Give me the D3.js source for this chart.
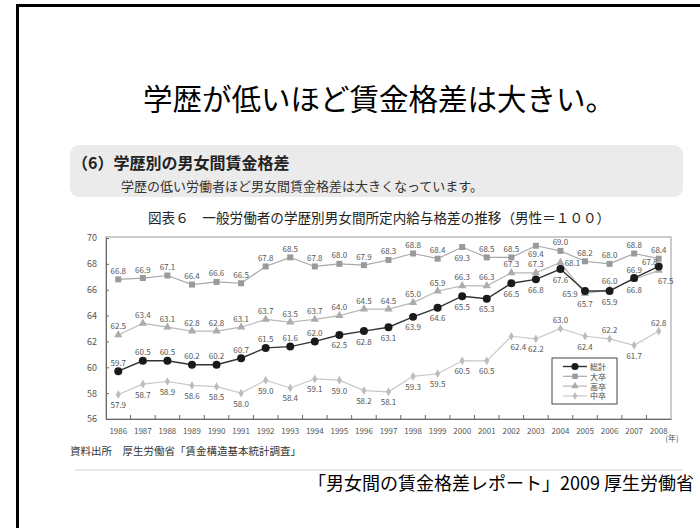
<!DOCTYPE html>
<html><head><meta charset="utf-8">
<script src="https://cdn.jsdelivr.net/npm/d3@7"></script>
<style>
html,body{margin:0;padding:0;background:#fff;}
svg{display:block;font-family:"Noto Sans CJK JP","Noto Sans",sans-serif;}
</style>
</head><body>
<svg id="c" width="700" height="528"></svg>
<script>
// ---- data ----
const years = ["1986","1987","1988","1989","1990","1991","1992","1993","1994","1995","1996","1997","1998","1999","2000","2001","2002","2003","2004","2005","2006","2007","2008"];
const seriesNames = ["総計","大卒","高卒","中卒"];
const total  = [59.7,60.5,60.5,60.2,60.2,60.7,61.5,61.6,62.0,62.5,62.8,63.1,63.9,64.6,65.5,65.3,66.5,66.8,67.6,65.9,65.9,66.9,67.8];
const univ   = [66.8,66.9,67.1,66.4,66.6,66.5,67.8,68.5,67.8,68.0,67.9,68.3,68.8,68.4,69.3,68.5,68.5,69.4,69.0,68.2,68.0,68.8,68.4];
const high   = [62.5,63.4,63.1,62.8,62.8,63.1,63.7,63.5,63.7,64.0,64.5,64.5,65.0,65.9,66.3,66.3,67.3,67.3,68.1,65.7,66.0,66.8,67.5];
const junior = [57.9,58.7,58.9,58.6,58.5,58.0,59.0,58.4,59.1,59.0,58.2,58.1,59.3,59.5,60.5,60.5,62.4,62.2,63.0,62.4,62.2,61.7,62.8];
const yTicks = [56,58,60,62,64,66,68,70];

// label placement codes (a=above, b=below, bs=just below, l=left, r=right, al=above-left, br=below-right)
const totalLab  = ["a","a","a","a","a","a","a","a","a","b","b","b","b","b","b","b","b","b","b","l","b","a","al"];
const univLab   = ["a","a","a","a","a","a","a","a","a","a","a","a","a","a","b","a","a","bs","a","a","a","a","a"];
const highLab   = ["a","a","a","a","a","a","a","a","a","a","a","a","a","a","a","a","a","a","r","b","a","b","br"];
const juniorLab = ["b","b","b","b","b","b","b","b","b","b","b","b","b","b","b","b","br","b","a","b","a","b","a"];

// ---- drawing ----
const svg = d3.select("#c");

// slide frame
svg.append("rect").attr("x",17.5).attr("y",5.5).attr("width",900).attr("height",900)
  .attr("fill","none").attr("stroke","#000").attr("stroke-width",3);

// main title
svg.append("text").attr("x",143).attr("y",97).attr("dominant-baseline","central")
  .attr("font-size",29.5).attr("fill","#000").text("学歴が低いほど賃金格差は大きい。");

// header box
svg.append("rect").attr("x",70).attr("y",145).attr("width",613).attr("height",52).attr("rx",9)
  .attr("fill","#ebebeb");
svg.append("text").attr("x",72).attr("y",162).attr("dominant-baseline","central")
  .attr("font-size",16).attr("font-weight","bold").attr("fill","#222").text("（6）学歴別の男女間賃金格差");
svg.append("text").attr("x",121).attr("y",185).attr("dominant-baseline","central")
  .attr("font-size",13).attr("fill","#333").text("学歴の低い労働者ほど男女間賃金格差は大きくなっています。");

// chart title
svg.append("text").attr("x",148).attr("y",217).attr("dominant-baseline","central")
  .attr("font-size",13.6).attr("fill","#222").text("図表６　一般労働者の学歴別男女間所定内給与格差の推移（男性＝１００）");

// scales
const x = d3.scaleBand().domain(years).range([106,671]).paddingInner(0).paddingOuter(0);
const cx = d => x(d) + x.bandwidth()/2;
const y = d3.scaleLinear().domain([56,70]).range([419,238]);

// plot frame
svg.append("rect").attr("x",106).attr("y",237).attr("width",565).attr("height",182)
  .attr("fill","none").attr("stroke","#999").attr("stroke-width",1);

// y axis
const gy = svg.append("g").attr("transform","translate(106,0)")
  .call(d3.axisLeft(y).tickValues(yTicks).tickSize(-3).tickPadding(9).tickFormat(d3.format("d")));
gy.select(".domain").attr("stroke","#666");
gy.selectAll(".tick line").attr("stroke","#666");
gy.selectAll("text").attr("font-size",9).attr("fill","#555").attr("font-family","'Noto Sans CJK JP',sans-serif");

// x axis
const gx = svg.append("g").attr("transform","translate(0,419)")
  .call(d3.axisBottom(x).tickSize(0).tickPadding(9));
gx.select(".domain").attr("stroke","#666");
gx.selectAll("text").attr("font-size",8).attr("fill","#555").attr("font-family","'Noto Sans CJK JP',sans-serif");
// boundary ticks (inward)
svg.append("g").selectAll("line").data(years.slice(1)).join("line")
  .attr("x1",d=>x(d)).attr("x2",d=>x(d)).attr("y1",419).attr("y2",415)
  .attr("stroke","#666").attr("stroke-width",1);
svg.append("text").attr("x",672).attr("y",437).attr("text-anchor","middle").attr("dominant-baseline","central")
  .attr("font-size",8).attr("fill","#555").text("(年)");

// series
const offs = {a:[0,-9], b:[0,10], bs:[0,7.5], l:[-15,2], r:[12,0], al:[-9,-5], br:[7,10]};
const series = [
  {name:seriesNames[1], vals:univ,   lab:univLab,   line:"#a8a8a8", mark:"#9a9a9a", sym:d3.symbolSquare,   size:36, lw:1.2},
  {name:seriesNames[2], vals:high,   lab:highLab,   line:"#b8b8b8", mark:"#acacac", sym:d3.symbolTriangle, size:30, lw:1.2},
  {name:seriesNames[3], vals:junior, lab:juniorLab, line:"#c8c8c8", mark:"#bcbcbc", sym:d3.symbolDiamond,  size:22, lw:1.2},
  {name:seriesNames[0], vals:total,  lab:totalLab,  line:"#333",    mark:"#1a1a1a", sym:d3.symbolCircle,   size:50, lw:1.4}
];
const line = d3.line().x((d,i)=>cx(years[i])).y(d=>y(d));
series.forEach(s=>{
  const g = svg.append("g");
  g.append("path").attr("d",line(s.vals)).attr("fill","none").attr("stroke",s.line).attr("stroke-width",s.lw);
  g.selectAll("path.m").data(s.vals).join("path").attr("class","m")
    .attr("d",d3.symbol().type(s.sym).size(s.size))
    .attr("transform",(d,i)=>`translate(${cx(years[i])},${y(d)})`)
    .attr("fill",s.mark);
});
// value labels
series.forEach(s=>{
  svg.append("g").selectAll("text").data(s.vals).join("text")
    .attr("x",(d,i)=>cx(years[i])+offs[s.lab[i]][0])
    .attr("y",(d,i)=>y(d)+offs[s.lab[i]][1])
    .attr("text-anchor","middle").attr("dominant-baseline","central")
    .attr("font-size",8).attr("fill","#555")
    .text(d=>d.toFixed(1));
});

// legend
const lg = svg.append("g");
lg.append("rect").attr("x",552).attr("y",358).attr("width",65).attr("height",46)
  .attr("fill","#fff").attr("stroke","#444").attr("stroke-width",1);
const legOrder = [series[3],series[0],series[1],series[2]];
legOrder.forEach((s,i)=>{
  const yy = 366.5 + i*9.8;
  lg.append("line").attr("x1",563).attr("x2",587).attr("y1",yy).attr("y2",yy).attr("stroke",s.line).attr("stroke-width",s.lw);
  lg.append("path").attr("d",d3.symbol().type(s.sym).size(s.size*0.8)).attr("transform",`translate(575,${yy})`).attr("fill",s.mark);
  lg.append("text").attr("x",590).attr("y",yy).attr("dominant-baseline","central").attr("font-size",8).attr("fill","#444").text(s.name);
});

// source
svg.append("text").attr("x",70).attr("y",450).attr("dominant-baseline","central")
  .attr("font-size",10.5).attr("fill","#333").text("資料出所　厚生労働省「賃金構造基本統計調査」");
// separator
svg.append("line").attr("x1",75).attr("x2",683).attr("y1",470).attr("y2",470).attr("stroke","#e2e2e2").attr("stroke-width",1.5);
// caption
svg.append("text").attr("x",694).attr("y",482).attr("text-anchor","end").attr("dominant-baseline","central")
  .attr("font-size",18).attr("fill","#000").text("「男女間の賃金格差レポート」2009 厚生労働省");
</script>
</body></html>
